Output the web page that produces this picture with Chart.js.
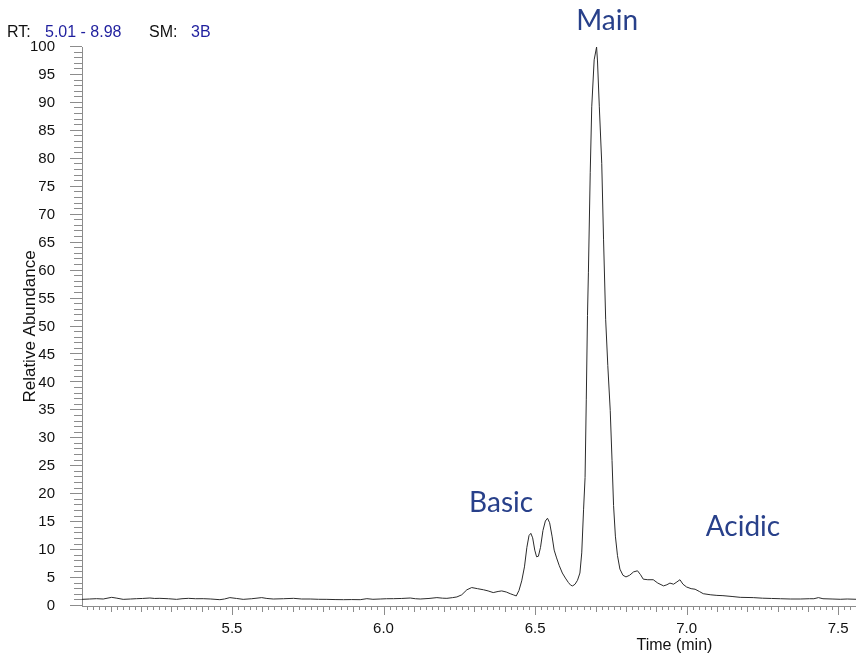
<!DOCTYPE html>
<html>
<head>
<meta charset="utf-8">
<title>Chromatogram</title>
<script src="https://cdn.jsdelivr.net/npm/chart.js@4.4.1/dist/chart.umd.min.js"></script>
<style>
  html, body { margin: 0; padding: 0; background: #fff; }
  canvas { display: block; }
</style>
</head>
<body>
<canvas id="trace" width="856" height="656"></canvas>
<script>
/*global Chart: true */
(function (Chart) {
    "use strict";

    // run header
    var rtRange = ['5.01', '8.98'];
    var smoothing = '3B';

    // retention time (min) and relative abundance (%)
    var times = [
        5.005, 5.03, 5.053, 5.075, 5.103, 5.12, 5.141, 5.165, 5.185, 5.205,
        5.229, 5.245, 5.262, 5.29, 5.317, 5.335, 5.356, 5.38, 5.405, 5.43,
        5.46, 5.475, 5.493, 5.515, 5.537, 5.565, 5.598, 5.615, 5.636, 5.67,
        5.703, 5.73, 5.758, 5.785, 5.813, 5.84, 5.868, 5.895, 5.923, 5.945,
        5.965, 5.989, 6.01, 6.033, 6.06, 6.088, 6.105, 6.121, 6.15, 6.176,
        6.195, 6.209, 6.228, 6.242, 6.258, 6.275, 6.291, 6.31, 6.33, 6.345,
        6.362, 6.378, 6.39, 6.405, 6.418, 6.428, 6.438, 6.447, 6.456, 6.465,
        6.473, 6.48, 6.486, 6.492, 6.499, 6.505, 6.511, 6.518, 6.526, 6.534,
        6.541, 6.548, 6.556, 6.563, 6.571, 6.58, 6.59, 6.6, 6.61, 6.618,
        6.624, 6.632, 6.64, 6.648, 6.654, 6.66, 6.665, 6.669, 6.673, 6.676,
        6.682, 6.687, 6.695, 6.703, 6.706, 6.712, 6.72, 6.726, 6.733, 6.74,
        6.748, 6.754, 6.759, 6.765, 6.772, 6.78, 6.79, 6.8, 6.812, 6.825,
        6.838, 6.848, 6.857, 6.872, 6.89, 6.905, 6.924, 6.935, 6.945, 6.957,
        6.968, 6.978, 6.988, 7.0, 7.015, 7.028, 7.042, 7.055, 7.08, 7.1,
        7.12, 7.15, 7.177, 7.22, 7.25, 7.28, 7.31, 7.342, 7.375, 7.405,
        7.42, 7.435, 7.45, 7.48, 7.507, 7.53, 7.56
    ];
    var abundance = [
        1.19, 1.25, 1.31, 1.25, 1.55, 1.4, 1.19, 1.25, 1.31, 1.35,
        1.43, 1.35, 1.37, 1.3, 1.19, 1.3, 1.37, 1.3, 1.31, 1.25,
        1.13, 1.25, 1.5, 1.35, 1.19, 1.3, 1.5, 1.35, 1.25, 1.3,
        1.37, 1.25, 1.25, 1.2, 1.19, 1.15, 1.13, 1.15, 1.13, 1.31,
        1.2, 1.25, 1.3, 1.31, 1.35, 1.43, 1.3, 1.25, 1.35, 1.5,
        1.4, 1.37, 1.5, 1.62, 2.0, 2.9, 3.3, 3.1, 2.9, 2.7,
        2.4, 2.6, 2.7, 2.5, 2.2, 2.0, 1.8, 2.8, 4.5, 7.0,
        10.5, 12.6, 13.0, 12.2, 10.0, 8.8, 8.9, 10.5, 13.5, 15.2,
        15.7, 14.9, 12.5, 10.0, 8.6, 7.2, 5.9, 5.0, 4.2, 3.7,
        3.6, 3.9, 4.6, 5.9, 9.5, 17.2, 23.0, 37, 52, 59.6,
        77.5, 89.3, 97.7, 100, 97.5, 89.3, 79.2, 65.5, 51.2, 43,
        35, 26, 18, 12.5, 9.0, 6.6, 5.5, 5.2, 5.5, 6.1,
        6.3, 5.6, 4.8, 4.7, 4.7, 4.1, 3.6, 3.8, 4.1, 3.9,
        4.3, 4.7, 3.9, 3.4, 3.1, 3.0, 2.6, 2.2, 2.0, 1.9,
        1.85, 1.7, 1.55, 1.5, 1.4, 1.35, 1.3, 1.25, 1.25, 1.3,
        1.3, 1.5, 1.3, 1.25, 1.2, 1.25, 1.2
    ];

    // axis labels
    var xTicks = [5.5, 6.0, 6.5, 7.0, 7.5];
    var yTicks = [0, 5, 10, 15, 20, 25, 30, 35, 40, 45, 50,
                  55, 60, 65, 70, 75, 80, 85, 90, 95, 100];

    // peak names, anchored in (time, abundance)
    var peakNames = ['Basic', 'Main', 'Acidic'];
    var peakNameAt = [[6.388, 16.8], [6.738, 103], [7.186, 12.5]];

    var axisColor = '#8c8c8c';
    var textColor = '#111111';
    var runColor = '#1f1f9e';
    var peakColor = '#28408a';
    var sans = "'Liberation Sans', Arial, sans-serif";

    // major / minor tick marks on both axes
    var tickMarks = {
        id: 'tickMarks',
        afterDraw: function (chart) {
            var ctx = chart.ctx,
                area = chart.chartArea,
                x = chart.scales.x,
                y = chart.scales.y,
                v, i, p, len;

            ctx.save();
            ctx.strokeStyle = axisColor;
            ctx.lineWidth = 1;
            ctx.beginPath();
            for (v = 0; v <= 100; v++) {
                p = Math.round(y.getPixelForValue(v)) - 0.5;
                len = v % 5 === 0 ? 12 : 8;
                ctx.moveTo(area.left - len, p);
                ctx.lineTo(area.left, p);
            }
            for (i = Math.ceil(x.min / 0.02); i * 0.02 <= x.max; i++) {
                p = Math.round(x.getPixelForValue(i * 0.02)) + 0.5;
                len = i % 25 === 0 ? 9 : (i % 5 === 0 ? 6 : 4);
                ctx.moveTo(p, area.bottom);
                ctx.lineTo(p, area.bottom + len);
            }
            ctx.stroke();
            ctx.restore();
        }
    };

    // run header, x title and peak names
    var captions = {
        id: 'captions',
        afterDraw: function (chart) {
            var ctx = chart.ctx,
                x = chart.scales.x,
                y = chart.scales.y,
                cx = 7;

            ctx.save();
            ctx.font = '16px ' + sans;
            ctx.textBaseline = 'alphabetic';
            ctx.textAlign = 'left';
            [['RT:', textColor, 38], [rtRange[0] + ' - ' + rtRange[1], runColor, 104],
             ['SM:', textColor, 42], [smoothing, runColor, 0]].forEach(function (part) {
                ctx.fillStyle = part[1];
                ctx.fillText(part[0], cx, 36.5);
                cx += part[2];
            });

            ctx.fillStyle = textColor;
            ctx.textAlign = 'center';
            ctx.textBaseline = 'middle';
            ctx.fillText('Time (min)', x.getPixelForValue(6.96), 645.5);

            ctx.font = "28px Lato, 'Open Sans', sans-serif";
            ctx.fillStyle = peakColor;
            ctx.textBaseline = 'alphabetic';
            peakNames.forEach(function (name, k) {
                ctx.fillText(name, x.getPixelForValue(peakNameAt[k][0]),
                    y.getPixelForValue(peakNameAt[k][1]));
            });
            ctx.restore();
        }
    };

    var points = times.map(function (t, i) {
        return {x: t, y: abundance[i]};
    });

    new Chart(document.getElementById('trace').getContext('2d'), {
        type: 'line',
        data: {
            datasets: [{
                data: points,
                borderColor: '#2b2b2b',
                borderWidth: 1,
                pointRadius: 0,
                tension: 0,
                fill: false
            }]
        },
        options: {
            responsive: false,
            animation: false,
            devicePixelRatio: 1,
            layout: {padding: {top: 47, left: 0, right: 0, bottom: 0}},
            plugins: {
                legend: {display: false},
                tooltip: {enabled: false}
            },
            scales: {
                x: {
                    type: 'linear',
                    min: 5.005,
                    max: 7.559,
                    grid: {display: false},
                    border: {display: true, color: axisColor, width: 1},
                    ticks: {
                        color: textColor,
                        font: {family: sans, size: 15},
                        padding: 6,
                        maxRotation: 0,
                        callback: function (v) { return v.toFixed(1); }
                    },
                    afterBuildTicks: function (scale) {
                        scale.ticks = xTicks.map(function (v) { return {value: v}; });
                    },
                    afterFit: function (scale) {
                        scale.height = 50;
                        scale.paddingLeft = 0;
                        scale.paddingRight = 0;
                    }
                },
                y: {
                    min: 0,
                    max: 100,
                    grid: {display: false},
                    border: {display: true, color: axisColor, width: 1},
                    ticks: {
                        color: textColor,
                        font: {family: sans, size: 15},
                        padding: 19,
                        callback: function (v) { return String(v); }
                    },
                    afterBuildTicks: function (scale) {
                        scale.ticks = yTicks.map(function (v) { return {value: v}; });
                    },
                    title: {
                        display: true,
                        text: 'Relative Abundance',
                        color: textColor,
                        font: {family: sans, size: 17},
                        padding: {top: 20, bottom: 0}
                    },
                    afterFit: function (scale) { scale.width = 82; }
                }
            }
        },
        plugins: [tickMarks, captions]
    });
}(Chart));
</script>
</body>
</html>
